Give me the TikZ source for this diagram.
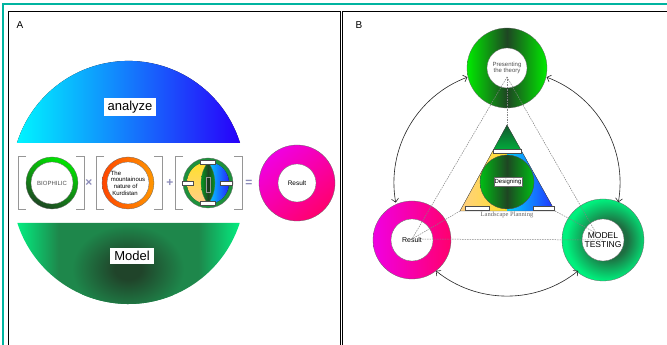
\documentclass[tikz,border=0pt]{standalone}
\usepackage{fontspec}
\setmainfont{Liberation Sans}
\newfontfamily\serifB{Liberation Serif}
\usetikzlibrary{arrows.meta}
\definecolor{teal1}{RGB}{0,180,160}
\definecolor{cyanA}{RGB}{0,245,255}
\definecolor{blueA}{RGB}{40,0,250}
\definecolor{sprA}{RGB}{0,250,135}
\definecolor{midA}{RGB}{30,135,75}
\definecolor{dkgA}{RGB}{32,68,42}
\definecolor{symc}{RGB}{140,140,185}
\definecolor{brk}{RGB}{150,150,150}
\definecolor{lgreen}{RGB}{0,230,0}
\definecolor{dgreen}{RGB}{30,70,35}
\definecolor{orR}{RGB}{255,70,0}
\definecolor{orL}{RGB}{255,150,0}
\definecolor{mag}{RGB}{240,0,225}
\definecolor{pinkr}{RGB}{255,0,110}
\definecolor{c3g}{RGB}{30,145,60}
\definecolor{yel}{RGB}{255,225,40}
\definecolor{peach}{RGB}{255,205,140}
\definecolor{cyb}{RGB}{0,210,255}
\definecolor{dblue}{RGB}{40,30,255}
\definecolor{tgreen}{RGB}{0,235,0}
\definecolor{desg}{RGB}{0,190,20}
\definecolor{lensg}{RGB}{0,170,30}
\definecolor{spring}{RGB}{0,240,125}
\definecolor{springd}{RGB}{30,110,65}
\definecolor{dashg}{RGB}{130,130,130}
\definecolor{txtg}{RGB}{80,80,80}
\definecolor{tridark}{RGB}{20,85,45}
\definecolor{trigreen}{RGB}{0,175,60}
\pgfdeclarehorizontalshading{theoryshade}{100bp}{color(0bp)=(tgreen); color(25bp)=(tgreen); color(50bp)=(dgreen); color(75bp)=(tgreen); color(100bp)=(tgreen)}
\pgfdeclarehorizontalshading{designshade}{100bp}{color(0bp)=(desg); color(25bp)=(desg); color(50bp)=(dgreen); color(75bp)=(desg); color(100bp)=(desg)}
\pgfdeclarehorizontalshading{lensshade}{100bp}{color(0bp)=(lensg); color(25bp)=(lensg); color(50bp)=(dgreen); color(75bp)=(lensg); color(100bp)=(lensg)}
\pgfdeclareradialshading{testshade}{\pgfpoint{5bp}{0bp}}{color(0bp)=(springd); color(11bp)=(springd); color(25bp)=(spring); color(50bp)=(spring)}
\pgfdeclarehorizontalshading{modelbase}{100bp}{color(0bp)=(sprA); color(25bp)=(sprA); color(35bp)=(midA); color(65bp)=(midA); color(75bp)=(sprA); color(100bp)=(sprA)}
\pgfdeclareradialshading{modelspot}{\pgfpoint{0bp}{0bp}}{color(0bp)=(dkgA); color(6bp)=(dkgA); color(25bp)=(midA); color(50bp)=(midA)}
\tikzset{
  ring/.style={circle, inner sep=0pt, draw=black!60, line width=0.3pt},
  hole/.style={circle, inner sep=0pt, fill=white, draw=black!60, line width=0.3pt, align=center},
  tiny/.style={font=\fontsize{6}{6.6}\selectfont},
  bigbox/.style={fill=white, inner xsep=4pt, inner ysep=3pt, font=\fontsize{13}{15}\selectfont},
  sym/.style={text=symc, font=\fontsize{12}{12}\bfseries},
  brack/.style={draw=brk, line width=0.7pt},
  minibox/.style={fill=white, draw=black!70, line width=0.25pt, inner sep=0pt, minimum height=3.5pt},
  cycarrow/.style={draw=black!85, line width=0.6pt, {Straight Barb[length=3.5pt,width=7pt]}-{Straight Barb[length=3.5pt,width=7pt]}},
  dashln/.style={draw=dashg, line width=0.5pt, dash pattern=on 1.5pt off 1pt}
}
\begin{document}
\begin{tikzpicture}[x=1pt,y=1pt]
\useasboundingbox (0,0) rectangle (667,345);
\clip (0,0) rectangle (667,345);
\fill[white] (0,0) rectangle (667,345);
% frames
\draw[teal1, line width=1.4pt] (3,-10) -- (3,341) -- (690,341);
\draw[black, line width=1pt] (8,-10) rectangle (340,333);
\draw[black, line width=1pt] (342,-10) rectangle (700,333);
\node[font=\fontsize{10}{12}\selectfont] (labA) at (20,320) {A};
\node[font=\fontsize{10}{12}\selectfont] (labB) at (359,320) {B};

% ---------- Panel A ----------
\fill[left color=cyanA, right color=blueA] (240,202) arc[start angle=17.3, end angle=162.7, radius=116.8] -- cycle;
\begin{scope}
  \clip (239.7,122) arc[start angle=-17.85, end angle=-162.15, radius=116.8] -- cycle;
  \shade[shading=modelbase] (12,35) rectangle (245,123);
  \shade[shading=modelspot] (128,76) ellipse (56 and 44);
\end{scope}
\node[bigbox] (analyze) at (130,238) {analyze};
\node[bigbox] (model) at (132,89) {Model};

% brackets
\draw[brack] (26,189) -- (18,189) -- (18,136) -- (26,136);
\draw[brack] (76,189) -- (84,189) -- (84,136) -- (76,136);
\draw[brack] (104,189) -- (96,189) -- (96,136) -- (104,136);
\draw[brack] (154,189) -- (162,189) -- (162,136) -- (154,136);
\draw[brack] (183,189) -- (175,189) -- (175,136) -- (183,136);
\draw[brack] (234,189) -- (242,189) -- (242,136) -- (234,136);

% circle 1
\node[ring, minimum size=52pt, top color=lgreen, bottom color=dgreen, shading angle=-25] (bioring) at (52,162) {};
\node[hole, minimum size=42pt, text=txtg, tiny] (bio) at (bioring.center) {BIOPHILIC};
\node[sym] (times) at (89,162) {×};
% circle 2
\node[ring, minimum size=52pt, left color=orR, right color=orL] (kurring) at (128,162) {};
\node[hole, minimum size=42pt, tiny, align=left] (kur) at (kurring.center) {The\\mountainous\\\hspace*{3pt}nature of\\\hspace*{1.5pt}Kurdistan};
\node[sym] (plus) at (170,162) {+};
% circle 3
\node[ring, minimum size=50pt, fill=c3g] (mixring) at (208,162) {};
\begin{scope}
  \clip (208,162) circle (21);
  \fill[top color=yel, bottom color=peach] (186,140) rectangle (208,184);
  \fill[left color=cyb, right color=dblue] (208,140) rectangle (230,184);
\end{scope}
\begin{scope}
  \clip (180,162) circle (35);
  \clip (236,162) circle (35);
  \shade[shading=lensshade] (200,140) rectangle (216,184);
\end{scope}
\draw[black!60, line width=0.25pt] (208,141) arc[start angle=-36.9, end angle=36.9, radius=35];
\draw[black!60, line width=0.25pt] (208,141) arc[start angle=216.9, end angle=143.1, radius=35];
\node[minibox, minimum width=15pt] (m1) at (208,183) {};
\node[minibox, minimum width=15pt] (m2) at (208,142) {};
\node[minibox, minimum width=11pt] (m3) at (187.5,162) {};
\node[minibox, minimum width=12pt] (m4) at (226.5,162) {};
\node[draw=black!40, fill=dgreen!85!black, line width=0.25pt, inner sep=0pt, minimum width=3.5pt, minimum height=15pt] (m5) at (208,160.5) {};
\node[sym] (equal) at (249,162) {=};
% result donut A
\node[ring, minimum size=76pt, top color=mag, bottom color=pinkr, shading angle=40] (resAring) at (297,162) {};
\node[hole, minimum size=38pt, font=\fontsize{6.5}{7}\selectfont] (resA) at (resAring.center) {Result};

% ---------- Panel B ----------
% triangle
\coordinate (apex) at (507,220);
\coordinate (bl) at (460,134);
\coordinate (br) at (555,134);
\begin{scope}
  \clip (apex) -- (bl) -- (br) -- cycle;
  \fill[top color=tridark, bottom color=trigreen] (455,194) rectangle (560,221);
  \fill[left color=peach, right color=yel] (455,130) rectangle (507,194);
  \fill[left color=cyb, right color=dblue] (507,130) rectangle (560,194);
\end{scope}
\draw[black!70, line width=0.3pt] (apex) -- (bl) -- (br) -- cycle;
\node[circle, inner sep=0pt, minimum size=54pt, draw=black!70, line width=0.4pt, shading=designshade] (designring) at (507,163) {};
\node[minibox, minimum width=28pt] (t1) at (507,194) {};
\node[minibox, minimum width=24pt] (t2) at (477,137) {};
\node[minibox, minimum width=21pt] (t3) at (543.5,137) {};
\node[fill=white, draw=black!60, line width=0.3pt, inner sep=0.5pt, minimum width=27pt, minimum height=9pt, tiny] (design) at (508,163.5) {Designing};
\node[text=black!60, font=\serifB\fontsize{6.5}{7}\selectfont] (lp) at (507,130.5) {Landscape Planning};

% donuts
\node[ring, minimum size=80pt, shading=theoryshade] (theoryring) at (507,277) {};
\node[hole, minimum size=40pt, text=txtg, tiny] (theory) at (theoryring.center) {Presenting\\the theory};
\node[ring, minimum size=78pt, left color=mag, right color=pinkr] (resBring) at (412,105) {};
\node[hole, minimum size=42pt, font=\fontsize{7}{8}\selectfont] (resB) at (resBring.center) {Result};
\node[ring, minimum size=82pt, shading=testshade] (testring) at (603,105) {};
\node[hole, minimum size=42pt, font=\fontsize{8.5}{9.5}\selectfont] (test) at (testring.center) {MODEL\\TESTING};

% dashed connectors
\coordinate (pt) at (507,268);
\coordinate (pl) at (412,106);
\coordinate (pr) at (596,112);
\coordinate (prr) at (603,105);
\draw[dashln] (pt) -- (pl);
\draw[dashln] (pt) -- (apex);
\draw[dashln] (pt) -- (pr);
\draw[dashln] (bl) -- (pl);
\draw[dashln] (br) -- (pr);
\draw[dashln] (pl) -- (prr);

% cycle arrows
\coordinate (O) at (507,162);
\draw[cycarrow] ([shift={(110.5:113)}]O) arc[start angle=110.5, end angle=190, radius=113];
\draw[cycarrow] ([shift={(231:113)}]O) arc[start angle=231, end angle=309, radius=113];
\draw[cycarrow] ([shift={(-9.8:113)}]O) arc[start angle=-9.8, end angle=69.5, radius=113];
\end{tikzpicture}
\end{document}
